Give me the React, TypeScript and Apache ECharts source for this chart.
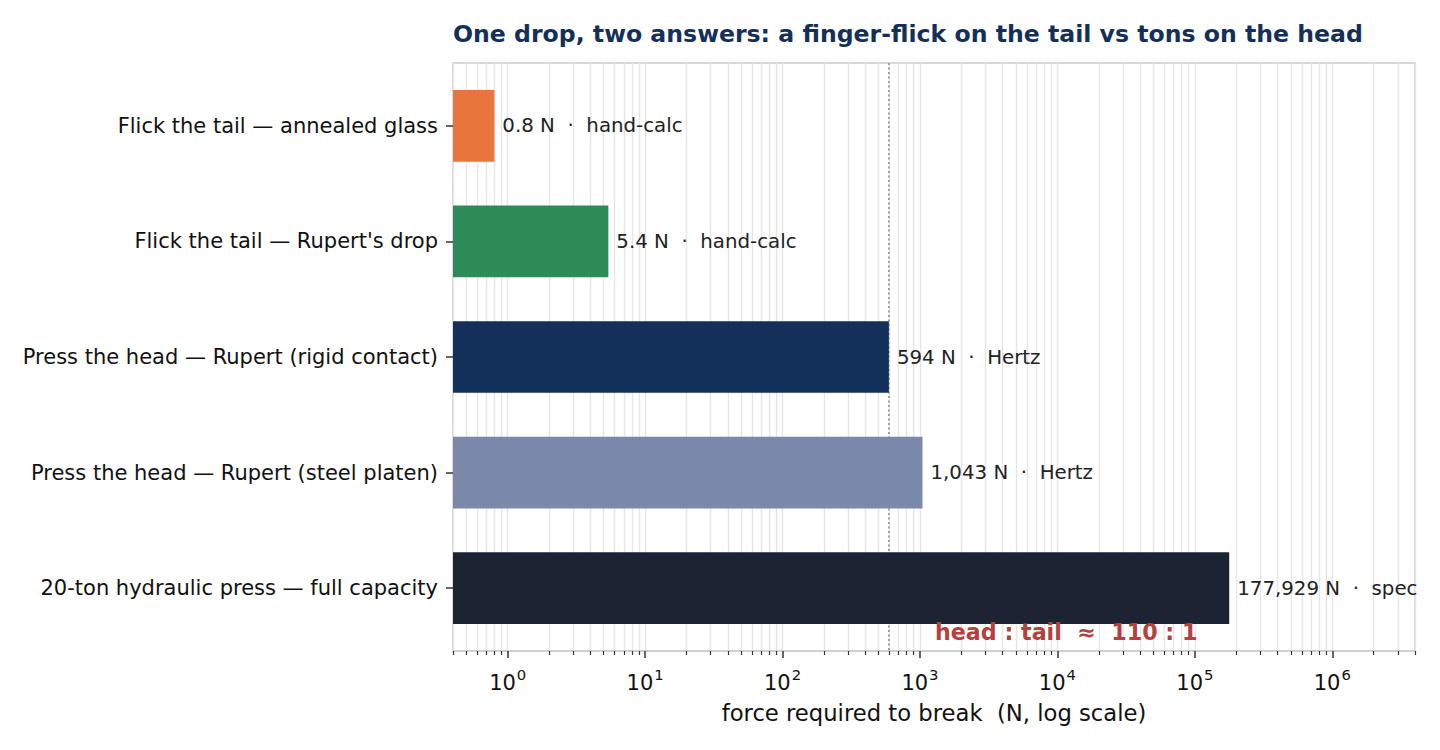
import React, { useEffect, useRef } from "react";
import * as echarts from "echarts";

const TITLE = "One drop, two answers: a finger-flick on the tail vs tons on the head";
const X_NAME = "force required to break  (N, log scale)";

const CATEGORIES = [
  "Flick the tail — annealed glass",
  "Flick the tail — Rupert's drop",
  "Press the head — Rupert (rigid contact)",
  "Press the head — Rupert (steel platen)",
  "20-ton hydraulic press — full capacity",
];
const FORCES_N = [0.8, 5.4, 594, 1043, 177929];
const SOURCES = ["hand-calc", "hand-calc", "Hertz", "Hertz", "spec"];
const BAR_COLORS = ["#e8763c", "#2e8b57", "#13305b", "#7a89aa", "#1c2433"];

const X_MIN = 0.4;
const X_MAX = 4e6;
const MAJOR_TICKS = [1, 10, 100, 1000, 10000, 100000, 1000000];
const MINOR_MULTIPLIERS = [2, 3, 4, 5, 6, 7, 8, 9];
const DECADES = [0.1, 1, 10, 100, 1000, 10000, 100000, 1000000];

const HEAD_INDEX = 2;
const TAIL_INDEX = 1;

const FONT = "'DejaVu Sans', 'Liberation Sans', sans-serif";

const MINOR_TICKS: number[] = [];
DECADES.forEach((d) =>
  MINOR_MULTIPLIERS.forEach((m) => {
    const v = Number((m * d).toPrecision(6));
    if (v >= X_MIN && v <= X_MAX) MINOR_TICKS.push(v);
  })
);

const fmt = (v: number) => v.toLocaleString("en-US");

export default function App() {
  const ref = useRef<HTMLDivElement>(null);

  useEffect(() => {
    if (!ref.current) return;
    const chart = echarts.init(ref.current, undefined, { renderer: "svg" });

    const headTail = Math.round(FORCES_N[HEAD_INDEX] / FORCES_N[TAIL_INDEX]);

    const option: any = {
      animation: false,
      backgroundColor: "#ffffff",
      title: {
        text: TITLE,
        left: 453,
        top: 22,
        padding: 0,
        textStyle: {
          fontFamily: FONT,
          fontSize: 23.6,
          fontWeight: "bold",
          color: "#14305a",
        },
      },
      grid: [
        {
          left: 453,
          right: 25,
          top: 63,
          bottom: 99,
          show: true,
          borderColor: "#cccccc",
          borderWidth: 1.5,
          backgroundColor: "transparent",
        },
        { left: 453, right: 25, top: 68, bottom: 104 },
      ],
      xAxis: [
        {
          gridIndex: 0,
          type: "log",
          logBase: 10,
          min: X_MIN,
          max: X_MAX,
          position: "bottom",
          name: X_NAME,
          nameLocation: "middle",
          nameGap: 50,
          nameTextStyle: { fontFamily: FONT, fontSize: 22.7, color: "#111" },
          axisLine: { show: true, lineStyle: { color: "#cccccc", width: 1.5 } },
          axisTick: {
            show: true,
            customValues: MAJOR_TICKS,
            length: 7,
            lineStyle: { color: "#333", width: 1.5 },
          },
          axisLabel: {
            customValues: MAJOR_TICKS,
            margin: 16,
            formatter: (v: number) => `{b|10}{s|${Math.round(Math.log10(v))}}`,
            rich: {
              b: {
                fontFamily: FONT,
                fontSize: 21,
                lineHeight: 26,
                color: "#111",
                verticalAlign: "bottom",
              },
              s: {
                fontFamily: FONT,
                fontSize: 14.8,
                lineHeight: 13,
                color: "#111",
                verticalAlign: "top",
                padding: [0, 0, 0, 1],
              },
            },
          },
          splitLine: { show: true, lineStyle: { color: "#e6e6e6", width: 1.4 } },
        },
        {
          gridIndex: 0,
          type: "log",
          logBase: 10,
          min: X_MIN,
          max: X_MAX,
          position: "bottom",
          offset: 0,
          axisLine: { show: false },
          axisTick: {
            show: true,
            customValues: MINOR_TICKS,
            length: 4,
            lineStyle: { color: "#333", width: 1.2 },
          },
          axisLabel: { show: false },
          splitLine: { show: true, lineStyle: { color: "#e6e6e6", width: 1.4 } },
        },
        {
          gridIndex: 1,
          type: "log",
          logBase: 10,
          min: X_MIN,
          max: X_MAX,
          show: false,
        },
      ],
      yAxis: [
        { gridIndex: 0, type: "value", min: 0, max: 1, show: false },
        {
          gridIndex: 1,
          type: "category",
          inverse: true,
          data: CATEGORIES,
          axisLine: { show: false },
          axisTick: {
            show: true,
            alignWithLabel: true,
            length: 7,
            lineStyle: { color: "#333", width: 1.5 },
          },
          axisLabel: {
            margin: 15,
            fontFamily: FONT,
            fontSize: 21,
            color: "#111",
          },
          splitLine: { show: false },
        },
      ],
      series: [
        {
          type: "custom",
          name: "reference",
          xAxisIndex: 0,
          yAxisIndex: 0,
          z: 1,
          silent: true,
          encode: { x: 0, y: 1 },
          data: [[FORCES_N[HEAD_INDEX], 0]],
          renderItem: (_p: any, api: any) => {
            const v = api.value(0);
            const b = api.coord([v, 0]);
            const t = api.coord([v, 1]);
            return {
              type: "line",
              shape: { x1: b[0], y1: t[1], x2: b[0], y2: b[1] },
              style: { stroke: "#8c8c8c", lineWidth: 1.5, lineDash: [2, 2.5] },
            };
          },
        },
        {
          type: "custom",
          name: "force",
          xAxisIndex: 2,
          yAxisIndex: 1,
          z: 3,
          encode: { x: 1, y: 0 },
          data: FORCES_N.map((v, i) => [i, v]),
          renderItem: (_p: any, api: any) => {
            const idx = api.value(0);
            const val = api.value(1);
            const start = api.coord([X_MIN, idx]);
            const end = api.coord([val, idx]);
            const band = Math.abs(api.coord([X_MIN, 1])[1] - api.coord([X_MIN, 0])[1]);
            const h = band * 0.62;
            return {
              type: "group",
              children: [
                {
                  type: "rect",
                  shape: { x: start[0], y: end[1] - h / 2, width: end[0] - start[0], height: h },
                  style: { fill: BAR_COLORS[idx] },
                },
                {
                  type: "text",
                  x: end[0] + 8,
                  y: end[1],
                  style: {
                    text: `${fmt(val)} N  ·  ${SOURCES[idx]}`,
                    fill: "#222",
                    fontFamily: FONT,
                    fontSize: 19.8,
                    align: "left",
                    verticalAlign: "middle",
                  },
                },
              ],
            };
          },
        },
      ],
      graphic: [
        {
          type: "text",
          x: 935,
          y: 632,
          z: 10,
          style: {
            text: `head : tail  ≈  ${headTail} : 1`,
            fill: "#b5403d",
            fontFamily: FONT,
            fontSize: 22.2,
            fontWeight: "bold",
            align: "left",
            verticalAlign: "middle",
          },
        },
      ],
    };

    chart.setOption(option);
    return () => chart.dispose();
  }, []);

  return (
    <div
      ref={ref}
      style={{ position: "fixed", left: 0, top: 0, width: 1440, height: 750, background: "#fff" }}
    />
  );
}
